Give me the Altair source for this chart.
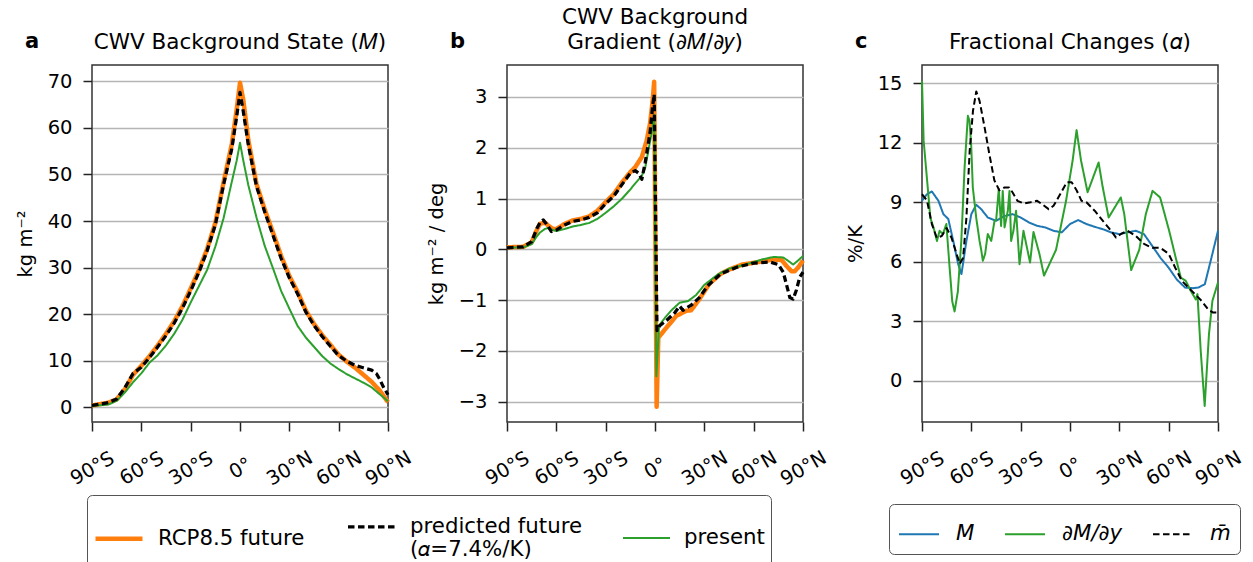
import altair as alt
import pandas as pd

ORANGE = "#ff7f0e"
GREEN = "#2ca02c"
BLUE = "#1f77b4"
BLACK = "#000000"

# ---------------- Panel a: CWV background state (kg m-2) ----------------
a_lat = [-90, -80, -75, -70, -65, -60, -55, -50, -45, -40, -35, -30, -25, -20, -15, -10, -5, -2, 0,
         2, 5, 10, 15, 20, 25, 30, 35, 40, 45, 50, 55, 60, 65, 70, 75, 80, 85, 90]
a_future = [0.4, 1.0, 1.7, 3.9, 7.0, 8.9, 11.0, 13.3, 15.8, 18.5, 21.7, 25.5, 29.4, 34.0, 39.6, 48.3, 56.5, 64.0, 69.7,
            66.0, 57.5, 48.0, 42.5, 37.6, 32.5, 28.2, 24.8, 20.8, 17.9, 15.5, 13.4, 11.3, 9.8, 8.5, 7.0, 5.5, 3.6, 1.1]
a_present = [0.3, 0.6, 1.4, 3.2, 5.4, 7.3, 9.6, 11.2, 13.3, 15.8, 18.8, 22.5, 26.0, 29.5, 34.5, 40.6, 48.4, 53.0, 56.8,
             53.0, 47.8, 40.8, 34.7, 29.9, 25.0, 21.2, 17.5, 15.0, 13.0, 11.0, 9.4, 8.2, 7.1, 6.2, 5.3, 4.3, 2.8, 1.3]
a_pred_lat = [-90, -80, -75, -70, -65, -60, -55, -50, -45, -40, -35, -30, -25, -20, -15, -10, -5, -2, 0,
              2, 5, 10, 15, 20, 25, 30, 35, 40, 45, 50, 55, 60, 65, 70, 75, 80, 83, 85, 87, 90]
a_pred = [0.4, 1.0, 1.8, 4.2, 7.3, 8.6, 10.7, 13.0, 15.4, 18.1, 21.3, 25.0, 29.0, 33.6, 39.2, 47.8, 55.5, 62.5, 67.6,
          63.5, 56.5, 47.5, 42.0, 37.0, 32.0, 27.8, 24.4, 20.5, 17.6, 15.2, 13.1, 11.1, 9.9, 9.0, 8.5, 8.0, 7.2, 6.0,
          4.5, 2.7]

# ---------------- Panel b: CWV background gradient (kg m-2 / deg) ----------------
b_fut_lat = [-90, -80, -75, -72, -70, -67, -65, -62, -60, -55, -50, -45, -40, -35, -30, -25, -20, -15, -12, -8, -5,
             -3, -1.5, -0.5, 1.0, 2.0, 7, 13, 19, 22, 27, 33, 40, 45, 53, 63, 72, 77, 80, 83, 85, 87, 90]
b_future = [0.04, 0.05, 0.14, 0.37, 0.5, 0.53, 0.47, 0.4, 0.4, 0.5, 0.57, 0.6, 0.65, 0.76, 0.93, 1.09, 1.32, 1.52, 1.62,
            1.82, 2.15, 2.48, 2.9, 3.3, -3.1, -1.74, -1.54, -1.31, -1.21, -1.2, -0.98, -0.68, -0.48, -0.4, -0.3, -0.25,
            -0.2, -0.21, -0.33, -0.43, -0.43, -0.36, -0.22]
b_pres_lat = [-90, -80, -75, -72, -70, -67, -65, -62, -60, -55, -50, -45, -40, -35, -30, -25, -20, -15, -12, -8, -6,
              -4, -2, -0.5, 0.8, 2.5, 6, 10, 15, 20, 25, 30, 38, 45, 55, 65, 72, 78, 82, 84, 87, 90]
b_present = [0.03, 0.04, 0.1, 0.25, 0.33, 0.4, 0.42, 0.38, 0.36, 0.4, 0.45, 0.48, 0.52, 0.6, 0.72, 0.85, 1.0, 1.18,
             1.3, 1.45, 1.6, 1.95, 2.3, 2.65, -2.5, -1.5, -1.35, -1.2, -1.05, -1.02, -0.9, -0.7, -0.5, -0.38, -0.3,
             -0.2, -0.15, -0.16, -0.25, -0.3, -0.22, -0.13]
b_pred_lat = [-90, -80, -75, -72, -70, -68, -66, -63, -60, -55, -50, -45, -40, -35, -30, -25, -20, -15, -12, -10, -8,
              -6, -3, -1.5, -0.5, 1.2, 3, 7, 12, 15, 17, 22, 27, 32, 40, 50, 60, 70, 75, 78, 80, 82, 84, 86, 88, 90]
b_pred = [0.03, 0.05, 0.15, 0.4, 0.52, 0.58, 0.5, 0.35, 0.38, 0.48, 0.55, 0.58, 0.63, 0.72, 0.9, 1.05, 1.28, 1.5,
          1.55, 1.5, 1.38, 1.7, 2.3, 2.8, 3.05, -1.6, -1.5, -1.4, -1.25, -1.12, -1.2, -1.1, -0.95, -0.72, -0.48,
          -0.35, -0.27, -0.25, -0.3, -0.45, -0.7, -0.95, -0.98, -0.8, -0.55, -0.45]

# ---------------- Panel c: fractional changes (%/K) ----------------
c_m_lat = [-90, -87, -84, -80, -77, -74, -71, -68, -66, -63, -60, -57, -54, -50, -45, -40, -35, -30, -25, -20, -15,
           -10, -5, 0, 5, 10, 15, 20, 25, 30, 35, 40, 45, 50, 55, 60, 65, 70, 75, 78, 82, 86, 90]
c_m = [9.07, 9.4, 9.54, 9.07, 8.4, 8.15, 7.05, 5.88, 5.38, 7.05, 8.4, 8.87, 8.65, 8.23, 8.06, 8.3, 8.4, 8.23, 7.98,
       7.81, 7.73, 7.56, 7.48, 7.9, 8.1, 7.9, 7.76, 7.64, 7.48, 7.39, 7.48, 7.56, 7.39, 6.8, 6.2, 5.7, 5.1, 4.7, 4.67,
       4.7, 4.87, 6.2, 7.56]
c_grad_lat = [-90, -89.0, -87.0, -84.9, -82.9, -80.9, -79.3, -77.3, -75.2, -73.2, -71.6, -70.2, -68.2, -66.1, -64.1,
              -62.1, -61.1, -60.1, -59.1, -57.0, -55.0, -54.0, -53.0, -51.6, -50.0, -47.9, -45.9, -44.9, -43.3,
              -41.9, -40.9, -39.8, -37.8, -36.8, -35.8, -34.4, -32.8, -30.7, -28.3, -24.3, -22.2, -18.6, -15.8,
              -8.5, -2.4, 1.6, 4.0, 6.7, 10.7, 17.4, 19.8, 23.5, 30.9, 33.0, 37.2, 42.1, 46.1, 50.2, 54.8, 60.3,
              64.3, 67.4, 70.4, 73.4, 76.5, 77.5, 79.5, 81.9, 84.5, 86.6, 90]
c_grad = [15.1, 12.1, 10.2, 8.2, 7.7, 7.05, 7.56, 7.39, 7.9, 5.7, 4.0, 3.5, 4.5, 7.05, 10.75, 13.35, 13.1, 11.9, 9.74,
          8.2, 7.05, 6.6, 6.05, 6.4, 7.4, 7.05, 8.06, 8.1, 9.66, 7.8, 9.57, 7.73, 8.57, 9.57, 7.05, 7.56, 8.57, 5.88,
          7.56, 5.96, 7.5, 6.4, 5.3, 6.6, 9.07, 11.1, 12.63, 11.1, 9.5, 11.0, 9.8, 8.23, 9.24, 8.4, 5.58, 6.6, 8.4,
          9.57, 9.24, 7.56, 6.2, 5.2, 5.04, 4.54, 4.1, 4.37, 1.5, -1.26, 2.35, 4.03, 4.96]
c_mbar_lat = [-90, -87, -84, -81, -78, -75, -72, -69, -67, -65, -63, -61, -59, -57, -55, -52, -49, -46, -43, -40, -37,
              -35, -32, -28, -24, -20, -17, -13, -10, -6, -2, 1, 4, 7, 10, 15, 20, 25, 28, 31, 35, 40, 45, 50, 55,
              60, 64, 68, 72, 76, 80, 84, 87, 90]
c_mbar = [9.4, 9.1, 7.9, 7.2, 7.3, 7.7, 7.2, 6.4, 5.9, 6.2, 8.2, 11.6, 13.6, 14.58, 14.1, 12.8, 11.4, 10.1, 9.6, 9.74,
          9.74, 9.5, 9.07, 8.94, 9.0, 9.07, 8.9, 8.65, 8.82, 9.4, 10.0, 10.0, 9.6, 9.07, 9.0, 8.57, 8.06, 7.56, 7.22,
          7.4, 7.56, 7.3, 6.9, 6.7, 6.7, 6.4, 5.7, 5.04, 4.7, 4.37, 4.03, 3.6, 3.44, 3.44]

# ---------------- labels ----------------
S1 = ["RCP8.5 future", "predicted future", "present"]
S2 = ["M", "∂M/∂y", "m̄"]
lat_ticks = [-90, -60, -30, 0, 30, 60, 90]
FONT = "DejaVu Sans"


def frame(lat, val, name):
    return pd.DataFrame({"lat": lat, "val": val, "series": name})


lat_label = ("datum.value == 0 ? '0°' : datum.value < 0 ? "
             "(-datum.value) + '°S' : datum.value + '°N'")


def xenc():
    return alt.X("lat:Q", scale=alt.Scale(domain=[-90, 90], nice=False),
                 axis=alt.Axis(values=lat_ticks, labelExpr=lat_label, title=None, grid=False,
                               labelAngle=330, labelAlign="center", labelBaseline="middle",
                               labelPadding=37, labelFlush=False, labelOverlap=False))


def yenc(domain, ticks, title):
    return alt.Y("val:Q", scale=alt.Scale(domain=domain, nice=False, zero=False),
                 axis=alt.Axis(values=ticks, title=title, grid=True, titlePadding=12, labelPadding=11))


leg1 = alt.Legend(title=None, orient="none", legendX=-5, legendY=430, direction="horizontal",
                  symbolType="stroke", symbolSize=2209, labelFontSize=21.3, labelFont=FONT,
                  labelOffset=13, columnPadding=36, padding=6, strokeColor="#555",
                  cornerRadius=5, fillColor="white", labelLimit=400,
                  labelExpr="datum.label == 'predicted future' ? ['predicted future', ' (𝛼=7.4%/K)'] : datum.label")
leg2 = alt.Legend(title=None, orient="none", legendX=-33, legendY=439, direction="horizontal",
                  symbolType="stroke", symbolSize=1600, labelFontSize=21.3, labelFont=FONT,
                  labelFontStyle="italic", labelOffset=16, columnPadding=26, padding=9,
                  strokeColor="#555", cornerRadius=5, fillColor="white", labelLimit=400)


def series_enc(domain, colors, dashes, widths, legend):
    return dict(
        color=alt.Color("series:N", scale=alt.Scale(domain=domain, range=colors), legend=legend),
        strokeDash=alt.StrokeDash("series:N", scale=alt.Scale(domain=domain, range=dashes), legend=legend),
        strokeWidth=alt.StrokeWidth("series:N", scale=alt.Scale(domain=domain, range=widths), legend=legend),
    )


def letter(txt, dx):
    return alt.Chart(pd.DataFrame({"t": [txt]})).mark_text(
        fontSize=21, fontWeight="bold", font=FONT, align="left", baseline="alphabetic"
    ).encode(text="t:N", x=alt.value(dx), y=alt.value(-17))


def panel(frames, domain, colors, dashes, widths, legend, ydom, yticks, ytitle, title, let, dx):
    layers = []
    for df in frames:
        enc = series_enc(domain, colors, dashes, widths, legend)
        layers.append(alt.Chart(df).mark_line(strokeCap="butt", strokeJoin="round").encode(
            x=xenc(), y=yenc(ydom, yticks, ytitle), **enc))
    layers.append(letter(let, dx))
    return alt.layer(*layers).properties(width=296, height=357, title=title)


dash1 = [[1, 0], [6.5, 3.5], [1, 0]]
pa = panel([frame(a_lat, a_future, S1[0]), frame(a_lat, a_present, S1[2]), frame(a_pred_lat, a_pred, S1[1])],
           S1, [ORANGE, BLACK, GREEN], dash1, [4.5, 2, 2], leg1,
           [-3.15, 73.5], [0, 10, 20, 30, 40, 50, 60, 70], "kg m⁻²",
           alt.TitleParams("CWV Background State (𝑀)"), "a", -67)
pb = panel([frame(b_fut_lat, b_future, S1[0]), frame(b_pres_lat, b_present, S1[2]), frame(b_pred_lat, b_pred, S1[1])],
           S1, [ORANGE, BLACK, GREEN], dash1, [4.5, 2, 2], None,
           [-3.40, 3.63], [-3, -2, -1, 0, 1, 2, 3], "kg m⁻² / deg",
           alt.TitleParams(["CWV Background", "Gradient (∂𝑀/∂𝑦)"]), "b", -57)
pc = panel([frame(c_m_lat, c_m, S2[0]), frame(c_grad_lat, c_grad, S2[1]), frame(c_mbar_lat, c_mbar, S2[2])],
           S2, [BLUE, GREEN, BLACK], [[1, 0], [1, 0], [6.5, 3.5]], [2, 2, 2], leg2,
           [-2.07, 15.91], [0, 3, 6, 9, 12, 15], "%/K",
           alt.TitleParams("Fractional Changes (𝛼)"), "c", -67)

chart = alt.hconcat(pa, pb, pc, spacing=119, bounds="flush").resolve_scale(
    color="independent", strokeDash="independent", strokeWidth="independent", y="independent", x="independent"
).resolve_legend(color="independent", strokeDash="independent", strokeWidth="independent").properties(
    padding={"left": 6, "top": -3, "right": 0, "bottom": 0}
).configure(font=FONT).configure_view(stroke="#333", strokeWidth=1.5).configure_axis(
    labelFont=FONT, titleFont=FONT, labelFontSize=19.5, titleFontSize=19.5, labelColor="#000", titleColor="#000",
    titleFontWeight="normal", domain=False, tickColor="#222", tickSize=9, tickWidth=1.5,
    gridColor="#b5b5b5", gridWidth=1.5
).configure_title(font=FONT, fontSize=21.5, fontWeight="normal", color="#000", anchor="middle",
                  offset=-22, lineHeight=25, frame="group")

chart.save("out.html", embed_options={"renderer": "svg", "actions": False})
